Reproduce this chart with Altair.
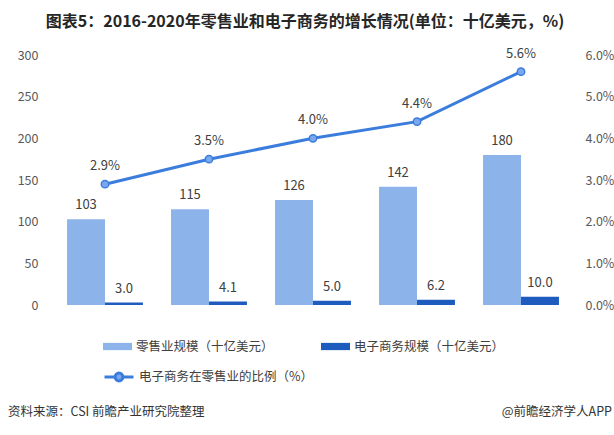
import altair as alt
import pandas as pd

years = ["2016", "2017", "2018", "2019", "2020"]
retail = [103, 115, 126, 142, 180]
ecom = [3.0, 4.1, 5.0, 6.2, 10.0]
share = [0.029, 0.035, 0.040, 0.044, 0.056]
retail_name = "零售业规模（十亿美元）"
ecom_name = "电子商务规模（十亿美元）"
share_name = "电子商务在零售业的比例（%）"

FONT = "Noto Sans CJK SC"
LIGHT = "#8db4ea"
DARK = "#1e5bbf"
LINE = "#3b7ddd"
MARK = "#7ba7ee"

bars_df = pd.DataFrame({
    "year": years * 2,
    "series": [retail_name] * 5 + [ecom_name] * 5,
    "value": retail + ecom,
    "label": [f"{v:.0f}" for v in retail] + [f"{v:.1f}" for v in ecom],
})
line_df = pd.DataFrame({
    "year": years,
    "series2": [share_name] * 5,
    "share": share,
    "label": [f"{v*100:.1f}%" for v in share],
})

xscale = alt.Scale(domain=years, paddingInner=0.27, paddingOuter=0.135)
x = alt.X("year:N", scale=xscale, title=None,
          axis=alt.Axis(labelAngle=0, ticks=False, domainColor="#d9d9d9",
                        domainWidth=1.2, labelColor="#404040", labelFontSize=12.5,
                        labelFont=FONT, labelPadding=9))
xoff = alt.XOffset("series:N", scale=alt.Scale(domain=[retail_name, ecom_name], paddingInner=0, paddingOuter=0))
yl = alt.Y("value:Q", scale=alt.Scale(domain=[0, 300]), title=None,
           axis=alt.Axis(values=[0, 50, 100, 150, 200, 250, 300], domain=False, ticks=False,
                         grid=False, labelColor="#595959", labelFontSize=12.5,
                         labelFont=FONT, labelPadding=15))

bar_legend = alt.Legend(orient="none", legendX=50, legendY=277, direction="horizontal",
                        columns=2, title=None, padding=0, columnPadding=47,
                        symbolType="M-1,-0.25H1V0.25H-1Z", symbolSize=841,
                        symbolStrokeWidth=0, labelOffset=4, labelFontSize=12.5,
                        labelFont=FONT, labelColor="#404040", labelLimit=300)

bars = alt.Chart(bars_df).mark_bar().encode(
    x=x, xOffset=xoff, y=yl,
    color=alt.Color("series:N", scale=alt.Scale(domain=[retail_name, ecom_name], range=[LIGHT, DARK]),
                    legend=bar_legend),
)
bar_text = alt.Chart(bars_df).mark_text(baseline="bottom", dy=-7, fontSize=13, font=FONT, color="#404040").encode(
    x=x, xOffset=xoff, y=yl, text="label:N")
left = alt.layer(bars, bar_text)

line_legend = alt.Legend(orient="none", legendX=50, legendY=306, title=None, padding=0,
                         symbolType="M-1,0H-0.27M0.27,0H1M0.27,0A0.27,0.27,0,1,1,-0.27,0A0.27,0.27,0,1,1,0.27,0Z",
                         symbolSize=841, symbolStrokeWidth=3, symbolFillColor=MARK,
                         symbolStrokeColor=LINE, labelOffset=4, labelFontSize=12.5,
                         labelFont=FONT, labelColor="#404040", labelLimit=300)

xl = alt.X("year:N", scale=xscale, title=None, axis=None)
yr = alt.Y("share:Q", scale=alt.Scale(domain=[0, 0.06]), title=None,
           axis=alt.Axis(orient="right", format=".1%", values=[0, 0.01, 0.02, 0.03, 0.04, 0.05, 0.06],
                         domain=False, ticks=False, grid=False, labelColor="#595959",
                         labelFontSize=12.5, labelFont=FONT, labelPadding=12))
line = alt.Chart(line_df).mark_line(strokeWidth=3).encode(
    x=xl, y=yr,
    color=alt.Color("series2:N", scale=alt.Scale(domain=[share_name], range=[LINE]), legend=line_legend))
pts = alt.Chart(line_df).mark_point(filled=True, size=55, fill=MARK, stroke=LINE, strokeWidth=1.5, opacity=1).encode(
    x=xl, y=yr)
line_text = alt.Chart(line_df).mark_text(baseline="bottom", dy=-11, fontSize=13, font=FONT, color="#404040").encode(
    x=xl, y=yr, text="label:N")
right = alt.layer(line, pts, line_text)

one = pd.DataFrame({"t": [""]})
title = alt.Chart(one).mark_text(
    text="图表5：2016-2020年零售业和电子商务的增长情况(单位：十亿美元，%)",
    font=FONT, fontSize=16, fontWeight="bold", color="#262626", align="center", baseline="middle"
).encode(x=alt.value(252), y=alt.value(-33))
src = alt.Chart(one).mark_text(
    text="资料来源：CSI 前瞻产业研究院整理", font=FONT, fontSize=12.5, color="#333333",
    align="left", baseline="middle").encode(x=alt.value(-45), y=alt.value(357))
app = alt.Chart(one).mark_text(
    text="@前瞻经济学人APP", font=FONT, fontSize=12.5, color="#333333",
    align="right", baseline="middle").encode(x=alt.value(559), y=alt.value(357))

chart = alt.layer(left, right, title, src, app).resolve_scale(
    y="independent", color="independent"
).resolve_legend(color="independent").properties(
    width=520, height=250,
    background="white",
    padding={"left": 53, "top": 55, "right": 41, "bottom": 130},
    autosize=alt.AutoSizeParams(type="none"),
).configure_view(stroke=None, strokeWidth=0).configure_axisY(
    domain=False, ticks=False, grid=False
)

chart.save("out.html", embed_options={"renderer": "svg", "actions": False})
